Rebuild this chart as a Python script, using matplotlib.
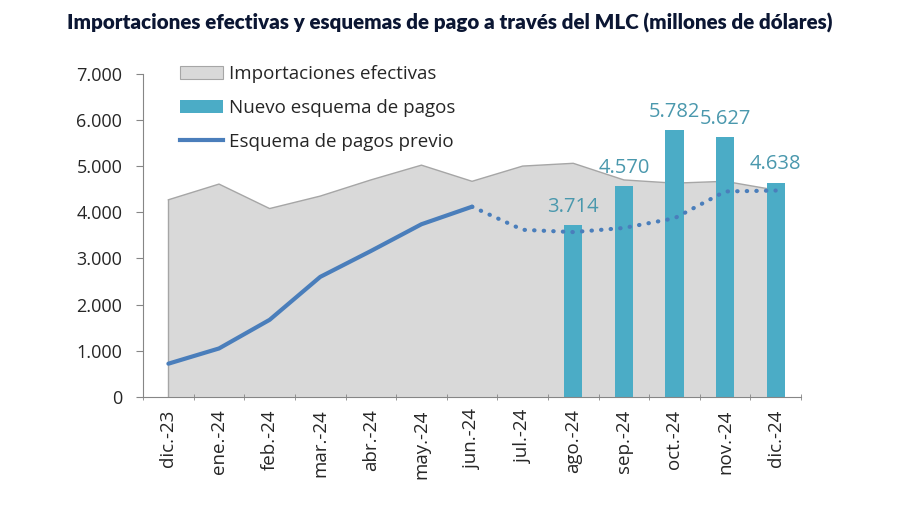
import numpy as np
import matplotlib
matplotlib.use("Agg")
import matplotlib.pyplot as plt
from matplotlib.patches import Patch
from matplotlib.lines import Line2D

plt.rcParams['font.family'] = ['Open Sans', 'DejaVu Sans']

# DATA
months = ['dic.-23', 'ene.-24', 'feb.-24', 'mar.-24', 'abr.-24', 'may.-24', 'jun.-24',
          'jul.-24', 'ago.-24', 'sep.-24', 'oct.-24', 'nov.-24', 'dic.-24']
importaciones = [4270, 4610, 4080, 4350, 4700, 5020, 4670, 5000, 5060, 4700, 4630, 4670, 4480]
previo_real = [720, 1050, 1670, 2600, 3160, 3740, 4120]          # dic.-23 .. jun.-24
previo_proy = [4120, 3620, 3570, 3660, 3870, 4450, 4470]         # jun.-24 .. dic.-24
nuevo_meses = ['ago.-24', 'sep.-24', 'oct.-24', 'nov.-24', 'dic.-24']
nuevo = [3714, 4570, 5782, 5627, 4638]
nuevo_labels = ['3.714', '4.570', '5.782', '5.627', '4.638']

c_area = '#d9d9d9'
c_area_edge = '#a6a6a6'
c_bar = '#4bacc6'
c_line = '#4a7ebb'
c_txt = '#262626'

x = np.arange(len(months))
x_bar = [months.index(m) for m in nuevo_meses]

fig = plt.figure(figsize=(9, 5.05), dpi=100)
ax = fig.add_axes([0.159, 0.214, 0.731, 0.640])

ax.fill_between(x, 0, importaciones, color=c_area, edgecolor='none', zorder=1)
ax.plot(x, importaciones, color=c_area_edge, lw=1, zorder=1.5)
ax.plot([0, 0], [0, importaciones[0]], color=c_area_edge, lw=1, zorder=1.5)

ax.bar(x_bar, nuevo, width=0.36, color=c_bar, zorder=2)
for xi, v, lab in zip(x_bar, nuevo, nuevo_labels):
    ax.annotate(lab, (xi, v), xytext=(0, 6), textcoords='offset points',
                ha='center', va='bottom', fontsize=14.5, color='#4a98ad', zorder=5)

ax.plot(x[:7], previo_real, color=c_line, lw=3, solid_capstyle='round', zorder=3)
ax.plot(x[6:], previo_proy, color=c_line, lw=3, linestyle=(0, (0.1, 2.2)),
        dash_capstyle='round', zorder=3)

ax.set_xlim(-0.5, 12.5)
ax.set_ylim(0, 7000)
ax.set_yticks(range(0, 7001, 1000))
ax.set_yticklabels(['0', '1.000', '2.000', '3.000', '4.000', '5.000', '6.000', '7.000'])
ax.set_xticks(x)
ax.set_xticklabels(months, rotation=90)
ax.set_xticks(np.arange(-0.5, 13, 1), minor=True)
ax.tick_params(axis='x', which='major', length=0, pad=9, labelsize=13.5, colors=c_txt)
ax.tick_params(axis='x', which='minor', length=5, color='#868686', direction='inout')
ax.tick_params(axis='y', length=5, color='#868686', labelsize=13, colors=c_txt, pad=10)
for s in ['top', 'right']:
    ax.spines[s].set_visible(False)
for s in ['left', 'bottom']:
    ax.spines[s].set_color('#868686')

handles = [Patch(facecolor=c_area, edgecolor=c_area_edge, lw=0.8),
           Patch(facecolor=c_bar, edgecolor='none'),
           Line2D([], [], color=c_line, lw=3)]
ax.legend(handles, ['Importaciones efectivas', 'Nuevo esquema de pagos', 'Esquema de pagos previo'],
          loc='upper left', bbox_to_anchor=(0.03, 1.08), frameon=False, fontsize=13.5,
          handlelength=2.3, handleheight=0.7, labelspacing=0.85, handletextpad=0.35,
          labelcolor=c_txt)

fig.text(0.5, 0.955, 'Importaciones efectivas y esquemas de pago a través del MLC (millones de dólares)',
         ha='center', va='center', fontsize=14.8, fontweight='heavy', color='#0b1633',
         family=['Lato', 'DejaVu Sans'])

fig.savefig('out.png', dpi=100)
